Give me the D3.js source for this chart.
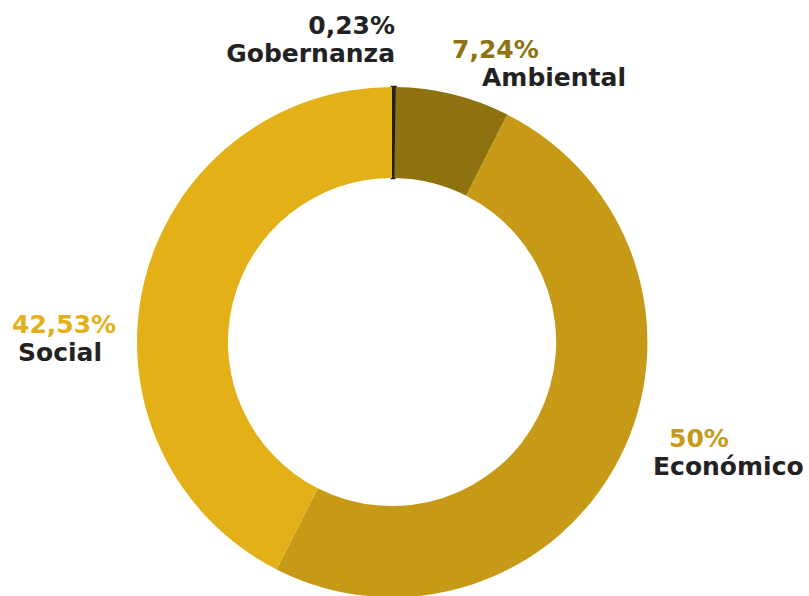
<!DOCTYPE html>
<html>
<head>
<meta charset="utf-8">
<script src="https://cdn.jsdelivr.net/npm/d3@7"></script>
<style>
  body { margin: 0; background: #fff; }
  svg text { font-family: "DejaVu Sans", sans-serif; font-weight: bold; }
</style>
</head>
<body>
<div id="chart"></div>
<script>
const categories = ['Gobernanza', 'Ambiental', 'Económico', 'Social'];
const values = [0.23, 7.24, 50, 42.53];
const valueLabels = ['0,23%', '7,24%', '50%', '42,53%'];
const colors = ['#222222', '#8e7210', '#c69a17', '#e3b018'];

// label placement (anchor + offset from centre)
const labelPos = [
  { x: 3, y: -308, anchor: 'end', dx: 0 },
  { x: 60, y: -284, anchor: 'start', dx: 30 },
  { x: 277, y: 105, anchor: 'start', dx: -16 },
  { x: -380, y: -9, anchor: 'start', dx: 6 }
];

const width = 809, height = 596;
const cx = 392, cy = 342;
const outerR = 255, innerR = 164;

const svg = d3.select('#chart')
  .append('svg')
  .attr('width', width)
  .attr('height', height);

const g = svg.append('g')
  .attr('transform', 'translate(' + cx + ',' + cy + ')');

const pie = d3.pie().sort(null).value(d => d);
const arc = d3.arc().innerRadius(innerR).outerRadius(outerR);

g.selectAll('path')
  .data(pie(values))
  .enter()
  .append('path')
  .attr('d', arc)
  .attr('fill', (d, i) => colors[i])
  .attr('stroke', (d, i) => i === 0 ? colors[0] : 'none')
  .attr('stroke-width', 2.5);

const labels = g.selectAll('g.label')
  .data(categories)
  .enter()
  .append('g')
  .attr('class', 'label')
  .attr('transform', (d, i) => 'translate(' + labelPos[i].x + ',' + labelPos[i].y + ')');

labels.append('text')
  .attr('text-anchor', (d, i) => labelPos[i].anchor)
  .attr('font-size', 25)
  .attr('fill', (d, i) => i === 0 ? '#222' : colors[i])
  .text((d, i) => valueLabels[i]);

labels.append('text')
  .attr('text-anchor', (d, i) => labelPos[i].anchor)
  .attr('x', (d, i) => labelPos[i].dx)
  .attr('y', 28)
  .attr('font-size', 25)
  .attr('fill', '#222')
  .text(d => d);
</script>
</body>
</html>
